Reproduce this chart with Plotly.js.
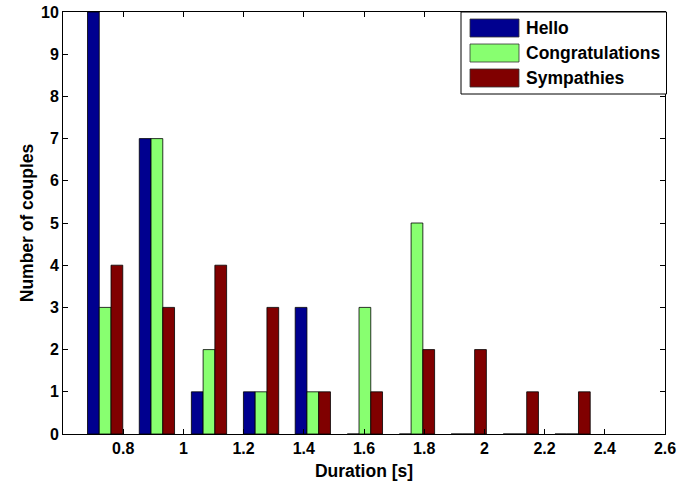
<!DOCTYPE html>
<html>
<head>
<meta charset="utf-8">
<script src="https://cdn.plot.ly/plotly-3.0.1.min.js"></script>
<style>html,body{margin:0;padding:0;background:#fff;}#chart{width:677px;height:484px;}</style>
</head>
<body>
<div id="chart"></div>
<script>
// ---- data ----
const binCenters = [0.740, 0.912, 1.085, 1.258, 1.430, 1.603, 1.776, 1.948, 2.121, 2.293];
const hello      = [10, 7, 1, 1, 3, 0, 0, 0, 0, 0];
const congrats   = [3, 7, 2, 1, 1, 3, 5, 0, 0, 0];
const sympathies = [4, 3, 4, 3, 1, 1, 2, 2, 1, 1];
const seriesNames = ["Hello", "Congratulations", "Sympathies"];
const xTickVals = [0.8, 1, 1.2, 1.4, 1.6, 1.8, 2, 2.2, 2.4, 2.6];
const xTickText = ["0.8", "1", "1.2", "1.4", "1.6", "1.8", "2", "2.2", "2.4", "2.6"];
const yTickVals = [0, 1, 2, 3, 4, 5, 6, 7, 8, 9, 10];

// ---- style ----
const colors = ["rgb(0,0,143)", "rgb(136,255,112)", "rgb(128,0,0)"];
const FONT = "Liberation Sans, Arial, Helvetica, sans-serif";
const W = 677, H = 484;
const M = {l: 63, r: 12, t: 12, b: 50};
const PW = W - M.l - M.r, PH = H - M.t - M.b;
const px = x => (x - M.l) / PW;          // pixel -> paper x
const py = y => (H - M.b - y) / PH;      // pixel -> paper y

const seriesValues = [hello, congrats, sympathies];
const traces = seriesValues.map((vals, i) => ({
  type: "bar",
  x: binCenters,
  y: vals,
  name: seriesNames[i],
  marker: {color: colors[i], line: {color: "#000", width: 0.8}},
  showlegend: false,
  hoverinfo: "x+y+name"
}));

// custom legend (MATLAB style wide swatches)
const shapes = [{
  type: "rect", xref: "paper", yref: "paper", layer: "above",
  x0: px(461), x1: px(666.5), y0: py(94), y1: py(12),
  fillcolor: "#fff", line: {color: "#000", width: 1}
}];
const annotations = [];
const rowY = [28, 53, 78];
seriesNames.forEach((nm, i) => {
  shapes.push({
    type: "rect", xref: "paper", yref: "paper", layer: "above",
    x0: px(470), x1: px(519), y0: py(rowY[i] + 9), y1: py(rowY[i] - 9),
    fillcolor: colors[i], line: {color: "#333", width: 0.8}
  });
  annotations.push({
    xref: "paper", yref: "paper", x: px(524), y: py(rowY[i]),
    xanchor: "left", yanchor: "middle", showarrow: false,
    text: nm, font: {family: FONT, size: 17.5, color: "#000", weight: "bold"}
  });
});

const layout = {
  width: W, height: H,
  margin: M,
  paper_bgcolor: "#fff", plot_bgcolor: "#fff",
  font: {family: FONT, size: 16, color: "#000", weight: "bold"},
  barmode: "group",
  bargap: 0.319,
  bargroupgap: 0,
  xaxis: {
    range: [0.6, 2.6],
    tickmode: "array", tickvals: xTickVals, ticktext: xTickText,
    ticks: "inside", ticklen: 5, tickwidth: 1, tickcolor: "#000",
    showline: true, linecolor: "#000", linewidth: 1, mirror: "ticks",
    showgrid: false, zeroline: false,
    tickfont: {family: FONT, size: 16, color: "#000", weight: "bold"},
    title: {text: "Duration [s]", font: {family: FONT, size: 17.5, color: "#000", weight: "bold"}, standoff: 8}
  },
  yaxis: {
    range: [0, 10],
    tickmode: "array", tickvals: yTickVals,
    ticks: "inside", ticklen: 5, tickwidth: 1, tickcolor: "#000",
    showline: true, linecolor: "#000", linewidth: 1, mirror: "ticks",
    showgrid: false, zeroline: false,
    tickfont: {family: FONT, size: 16, color: "#000", weight: "bold"},
    title: {text: "Number of couples", font: {family: FONT, size: 17.5, color: "#000", weight: "bold"}, standoff: 2}
  },
  shapes: shapes,
  annotations: annotations,
  showlegend: false
};

Plotly.newPlot("chart", traces, layout, {displayModeBar: false, staticPlot: true});
</script>
</body>
</html>
